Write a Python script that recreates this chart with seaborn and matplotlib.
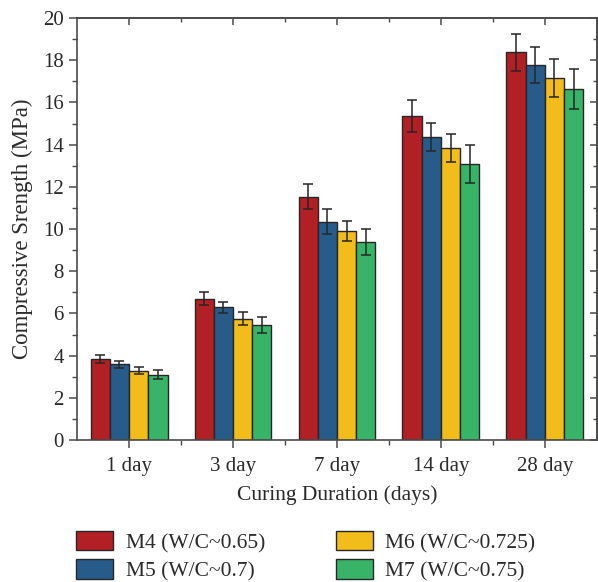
import matplotlib
matplotlib.use("Agg")
import matplotlib.pyplot as plt
from matplotlib.ticker import MultipleLocator, FixedLocator
import numpy as np
import pandas as pd
import seaborn as sns

# === DATA ===
DAYS = ["1 day", "3 day", "7 day", "14 day", "28 day"]
MIXES = ["M4 (W/C~0.65)", "M5 (W/C~0.7)", "M6 (W/C~0.725)", "M7 (W/C~0.75)"]

m4 = [3.82, 6.70, 11.53, 15.36, 18.37]
m5 = [3.59, 6.28, 10.35, 14.36, 17.79]
m6 = [3.29, 5.75, 9.92, 13.85, 17.17]
m7 = [3.10, 5.45, 9.37, 13.07, 16.62]

m4_err = [0.19, 0.32, 0.59, 0.74, 0.89]
m5_err = [0.17, 0.28, 0.58, 0.68, 0.85]
m6_err = [0.15, 0.30, 0.47, 0.67, 0.90]
m7_err = [0.22, 0.38, 0.62, 0.90, 0.95]

COLORS = ["#B21F25", "#265B8A", "#F2BC1A", "#38B468"]

# === BUILD TABLE ===
values = [m4, m5, m6, m7]
errors = [m4_err, m5_err, m6_err, m7_err]
rows = []
for mix, vals, errs in zip(MIXES, values, errors):
    for day, v, e in zip(DAYS, vals, errs):
        rows.append({"day": day, "mix": mix, "strength": v, "err": e})
df = pd.DataFrame(rows)

# === PLOT ===
sns.set_style("ticks")
plt.rcParams["font.family"] = ["Liberation Serif", "DejaVu Serif"]
text_col = "#2a2a2a"
spine_col = "#4a4a4a"

fig = plt.figure(figsize=(5.98, 5.82), dpi=100)
ax = fig.add_axes([0.129, 0.244, 0.869, 0.725])

sns.barplot(data=df, x="day", y="strength", hue="mix", order=DAYS,
            hue_order=MIXES, palette=COLORS, width=0.74, errorbar=None,
            edgecolor="#262626", linewidth=1.0, saturation=1, ax=ax)

# error bars at the bar centres
for cont, mix in zip(ax.containers, MIXES):
    sub = df[df["mix"] == mix].set_index("day").loc[DAYS]
    xs = [b.get_x() + b.get_width() / 2 for b in cont]
    ax.errorbar(xs, sub["strength"], yerr=sub["err"], fmt="none",
                ecolor="#262626", elinewidth=1.1, capsize=3.5, capthick=1.1)

ax.set_xlim(-0.5, 4.5)
ax.set_ylim(0, 20)
ax.yaxis.set_major_locator(MultipleLocator(2))
ax.yaxis.set_minor_locator(MultipleLocator(1))
ax.xaxis.set_minor_locator(FixedLocator([0.5, 1.5, 2.5, 3.5]))

for s in ax.spines.values():
    s.set_visible(True)
    s.set_color(spine_col)
    s.set_linewidth(1.2)

ax.tick_params(which="major", direction="out", length=6, width=1.1,
               color=spine_col, labelsize=15, labelcolor=text_col)
ax.tick_params(axis="x", which="major", pad=6)
ax.tick_params(which="minor", direction="out", length=3.5, width=1.0,
               color=spine_col)

# mirrored ticks on top and right, pointing inward
top = ax.secondary_xaxis("top")
top.set_xticks(range(len(DAYS)))
top.xaxis.set_minor_locator(FixedLocator([0.5, 1.5, 2.5, 3.5]))
top.tick_params(which="major", direction="in", length=5, width=1.1,
                color=spine_col, labeltop=False)
top.tick_params(which="minor", direction="in", length=3, width=1.0,
                color=spine_col)
top.spines["top"].set_color(spine_col)
top.spines["top"].set_linewidth(1.2)

right = ax.secondary_yaxis("right")
right.yaxis.set_major_locator(MultipleLocator(2))
right.yaxis.set_minor_locator(MultipleLocator(1))
right.tick_params(which="major", direction="in", length=5, width=1.1,
                  color=spine_col, labelright=False)
right.tick_params(which="minor", direction="in", length=3, width=1.0,
                  color=spine_col)
right.spines["right"].set_color(spine_col)
right.spines["right"].set_linewidth(1.2)

ax.set_xlabel("Curing Duration (days)", fontsize=15.5, color=text_col, labelpad=7)
ax.set_ylabel("Compressive Srength (MPa)", fontsize=16.5, color=text_col, labelpad=7)

handles, labels = ax.get_legend_handles_labels()
ax.get_legend().remove()
fig.legend(handles, labels, ncol=2, loc="upper left",
           bbox_to_anchor=(76 / 598, 1 - 531 / 582), frameon=False,
           fontsize=15.5, borderpad=0, borderaxespad=0,
           handlelength=1.7, handleheight=1.0, handletextpad=0.6,
           columnspacing=3.3, labelspacing=0.3, labelcolor=text_col)

plt.savefig("out.png", dpi=100)
plt.close()
